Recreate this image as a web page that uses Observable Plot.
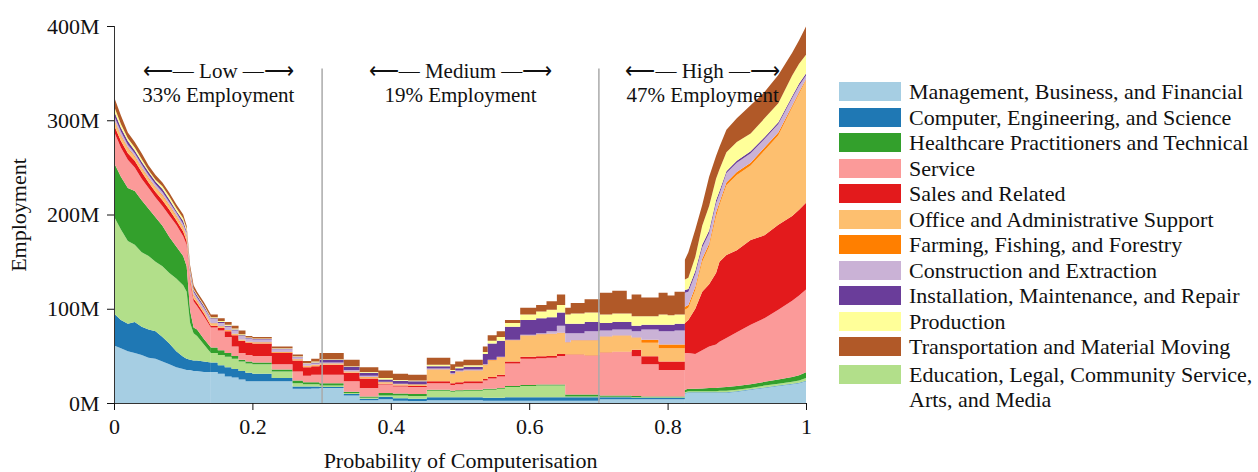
<!DOCTYPE html>
<html><head><meta charset="utf-8">
<script src="https://cdn.jsdelivr.net/npm/d3@7"></script>
<script src="https://cdn.jsdelivr.net/npm/@observablehq/plot@0.6"></script>
<style>
body{margin:0;background:#fff;font-family:"Liberation Serif","Times New Roman",serif;}
#wrap{position:relative;width:1258px;height:472px;overflow:hidden;}
#chart{position:absolute;left:0;top:0;}
#legend{position:absolute;left:839px;top:79px;font-size:22px;line-height:25.5px;color:#111;}
.item{display:flex;align-items:flex-start;min-height:25.5px}
.item.last{margin-top:2px}
.sw{width:62px;height:19px;margin-top:3px;margin-right:8px;flex:none}
</style></head><body><div id="wrap"><div id="chart"></div><div id="legend"></div></div>
<script>
// Probability of computerisation (x positions where values were read)
const prob = [
  0,0.01,0.02,0.03,0.04,0.05,0.06,0.07,0.08,0.09,0.10,
  0.105,0.11,0.115,0.12,0.13,0.14,0.15,0.16,0.17,0.18,0.19,0.20,
  0.228,0.258,0.273,0.285,0.297,
  0.332,0.355,0.382,0.403,0.425,0.452,
  0.486,0.493,0.505,0.533,0.54,0.553,0.565,0.587,
  0.61,0.625,0.64,0.652,0.66,0.68,0.702,0.72,
  0.741,0.748,0.762,0.787,0.80,0.81,
  0.825,0.83,0.84,0.85,0.86,0.87,0.875,0.885,0.90,
  0.92,0.94,0.96,0.98,0.99,1.0];

// Employment (millions) per occupation group, stacked bottom to top
const management = [61,58,55,53,51,48,47,44,41,38,36, 35,35,34,34,33,33,31,28,27,25,23,23, 23,15,15,15.5,16, 8,3,4,2.5,2,3, 3,3,3,2.5,2.5,2.5,2.5,2.5, 2.5,2.5,2.5,2.5,2.5,2.5,4,4, 4,4,4,4,4,4, 10,11,11,11,11,11,11,11,12, 14,16,18,20,21,23];
const computer = [34,30,29,33,30,30,29,26,22,17,13, 12,11,11,11,11,10,9,10,9,9,9,8, 3.5,2.5,2.5,2,1, 1.5,1.5,2.5,2.5,2.5,3, 3,3,3,3,3,3,3.5,3.5, 3.5,3.5,3.5,3.5,3.5,3.5,2,2, 2,1.5,1.5,1.5,1.5,1.5, 0.5,0.5,0.5,0.5,0.5,0.5,0.5,0.5,0.5, 0.5,0.5,0.5,0.5,0.5,0.5];
const education = [103,96,88,82,79,78,74,75,75,77,76, 71,39,29,26,18,10,11,11,11,10,10,10, 7,3.5,2.5,2.5,1.5, 1,1,1.5,3,3,7, 6,6.5,7,8.5,8.5,9.5,11,12, 12.5,12.5,12.5,1,1,1,0.5,0.5, 0.5,0.5,0.5,0.5,0.5,0.5, 1,1,1,1,1,1,1.5,1.5,1.5, 1.5,2,2,2,2.5,3];
const healthcare = [57,56,56,57,55,50,47,43,38,34,31, 27,13,6,7,6,6,5,4,3,2,2,2, 2,3,2,2,2.5, 1.5,1.5,2.5,2,2,1, 1,1,1,1,1,1,1,1, 1,1,1,2,2,2,1.5,1.5, 1.5,1.5,1,1,1,1, 2.5,2.5,2.5,3,3.5,3.5,3.5,4,4, 4,4,4.5,5,5.5,6];
const service = [33,31,30,25,23,22,21,21,23,23,21, 23,30,28,25,24,21,21,17,10,7,7,7, 5.5,9.5,7,8,9, 11,9,9,7.5,7.5,7, 6,6.5,7,9,11,12,24,28, 28,28.5,30.5,42,42,41,45,46, 46,42,34,28,28,28, 39,38,37,40.5,44,46,48.5,52,57, 63,67.5,74,81,84.5,88];
const sales = [7,7,7,7,7,6,6,6,6,5,5, 4,3,3,3,3,2,2.5,6,12,13,13,13, 12,11.5,9,9,10.5, 9,10,1,1,1,2, 2,2,2,1.5,1.5,2,2,2, 2,2,2,0.5,0.5,0.5,0.5,0.5, 0.5,7,8.5,9,9,9, 32,35,48,62,66,76,85,88,87, 90,88,90,90,91,92];
const office = [5,5,5,4,4,4,4,5,4,4,4, 4,3,3,2,2,2,1.5,1,1,1,0.5,1, 0.5,1,1,1,1, 1,1,1,1,1,12, 9,11,11,14.5,17.5,18,22,22, 23,23,22,12.5,14.5,15.5,16.5,16.5, 16.5,12.5,14.5,14,14,14, 14,13,20,32,40,60,60,74,80, 79,90,95,115,123,130];
const farming = [1,1,1,1,1,1,1,1,1,1,1, 1,1,1,1,1,0.5,0.5,0.5,0.5,0.5,0.5,0.5, 0.5,0.5,0.5,0.5,0.5, 0.5,0.5,0.5,0.5,0.5,0.5, 0.5,0.5,0.5,0.5,0.5,0.5,0.5,0.5, 0.5,0.5,0.5,0.5,0.5,0.5,0.5,0.5, 0.5,0.5,3,4,4,4, 3,3,3,3,3,4,3,3,3, 3,3,3,2,2,1];
const construction = [4,4,3,3,3,3,3,3,3,3,3, 3,3,3,3,3,4.5,3.5,3.5,3.5,3.5,3.5,3, 3,2,2,1.5,1, 1.5,1.5,0.5,0.5,0.5,1, 1,1,1,0.5,0.5,0.5,0.5,1, 1,2.5,7.5,9.5,7.5,9.5,6.5,6.5, 6.5,6.5,11,14,14,15, 15,14,14,12,11,10,9,10,10, 10,9,9,8,7,4];
const installation = [5,4,4,3,3,3,3,3,3,2,3, 2,2,2,2,2,1,1,1,1,1,0.5,0.5, 0.5,0.5,0.5,1,3, 3.5,3,2.5,3,3,2.5, 2.5,2.5,3,11,17,17,14,15.5, 16,15,14,10,10,10,8,8, 8,6,5,7,7,7, 3,3,3,3,3,3,3,2,2, 2,2,2,2,2,2];
const production = [5,4,3,3,3,2,2,3,3,3,3, 3,2,1,1,1,1,1,1,1,1,0.5,0.5, 0.5,0.5,0.5,1,0.5, 0.5,1,1.5,1,1,1.5, 1,1.5,1.5,2,3,4,4,6, 7,8,8,10,11,10,9,9, 9,10,9,11,10,10, 11,12,15,20,26,23,23,20,20, 19,20,20,22,21,20];
const transportation = [10,9,6,6,6,5,5,4,4,4,4, 3,4,4,3,3,3,3,3,3,4,1.5,1.5, 2,2,2,3,6.5, 7,5,8,6.5,6,7.5, 6,5.5,6,6,6,6,3,7, 7,9,11,7,11,14,23,24, 15,23,20,23,21,24, 21,27,29,22,31,24,24,24,25, 30,28,30,24,25,30];

// Stack order (bottom to top) and colours
const stackNames = [
  "Management, Business, and Financial",
  "Computer, Engineering, and Science",
  "Education, Legal, Community Service, Arts, and Media",
  "Healthcare Practitioners and Technical",
  "Service",
  "Sales and Related",
  "Office and Administrative Support",
  "Farming, Fishing, and Forestry",
  "Construction and Extraction",
  "Installation, Maintenance, and Repair",
  "Production",
  "Transportation and Material Moving"];
const stackSeries = [management, computer, education, healthcare, service, sales, office, farming, construction, installation, production, transportation];
const stackColors = ["#a6cee3","#1f78b4","#b2df8a","#33a02c","#fb9a99","#e31a1c","#fdbf6f","#ff7f00","#cab2d6","#6a3d9a","#ffff99","#b15928"];

// Legend order
const legendNames = [
  "Management, Business, and Financial",
  "Computer, Engineering, and Science",
  "Healthcare Practitioners and Technical",
  "Service",
  "Sales and Related",
  "Office and Administrative Support",
  "Farming, Fishing, and Forestry",
  "Construction and Extraction",
  "Installation, Maintenance, and Repair",
  "Production",
  "Transportation and Material Moving",
  "Education, Legal, Community Service, Arts, and Media"];

// Risk bands
const bandCenters = [0.15, 0.5, 0.85];
const bandNames = ["Low", "Medium", "High"];
const bandShares = ["33% Employment", "19% Employment", "47% Employment"];
const bandBounds = [0.3, 0.7];

// Sections drawn with smooth (sloped) vs. stepped outlines
const smoothLow = [0, 0.14];
const stepped = [0.14, 0.825];
const smoothHigh = [0.825, 1];

const rows = [];
stackNames.forEach((name, i) => {
  stackSeries[i].forEach((v, j) => rows.push({p: prob[j], emp: v, group: name}));
});
const within = ([a, b]) => rows.filter(d => d.p >= a && d.p <= b);
const bands = bandNames.map((n, i) => ({p: bandCenters[i], label: `\u27F5\u2014 ${n} \u2014\u27F6\n${bandShares[i]}`}));

const areaOpts = {x: "p", y: "emp", z: "group", fill: "group"};
const chart = Plot.plot({
  width: 830, height: 472,
  marginLeft: 114, marginRight: 24, marginTop: 26, marginBottom: 69,
  style: {fontFamily: "'Liberation Serif', 'Times New Roman', serif", fontSize: "22px", color: "#111", background: "white", overflow: "visible"},
  x: {domain: [0, 1]},
  y: {domain: [0, 400]},
  color: {domain: stackNames, range: stackColors},
  marks: [
    Plot.areaY(within(smoothLow), {...areaOpts, curve: "linear"}),
    Plot.areaY(within(stepped), {...areaOpts, curve: "step-after"}),
    Plot.areaY(within(smoothHigh), {...areaOpts, curve: "linear"}),
    Plot.ruleX(bandBounds, {y1: 0, y2: 355, stroke: "#aaa", strokeWidth: 1.5}),
    Plot.text(bands, {x: "p", y: 341, text: "label", fontSize: 21, lineHeight: 1.17, fill: "#111"}),
    Plot.ruleX([0], {y1: 0, y2: 400, stroke: "#333"}),
    Plot.ruleY([0], {x1: 0, x2: 1, stroke: "#333"}),
    Plot.axisY({ticks: [0,100,200,300,400], tickFormat: d => `${d}M`, tickSize: 7, tickPadding: 8,
      label: "Employment", labelAnchor: "center", labelOffset: 104, labelArrow: "none"}),
    Plot.axisX({ticks: [0,0.2,0.4,0.6,0.8,1], tickFormat: d => String(d), tickSize: 7, tickPadding: 8,
      label: "Probability of Computerisation", labelAnchor: "center", labelOffset: 64, labelArrow: "none"})
  ]
});
document.getElementById("chart").append(chart);

const leg = document.getElementById("legend");
legendNames.forEach((name, i) => {
  const item = document.createElement("div");
  item.className = "item" + (i === legendNames.length - 1 ? " last" : "");
  const sw = document.createElement("div");
  sw.className = "sw";
  sw.style.background = stackColors[stackNames.indexOf(name)];
  const t = document.createElement("div");
  t.style.width = "345px";
  t.textContent = name;
  item.append(sw, t);
  leg.append(item);
});
</script></body></html>
